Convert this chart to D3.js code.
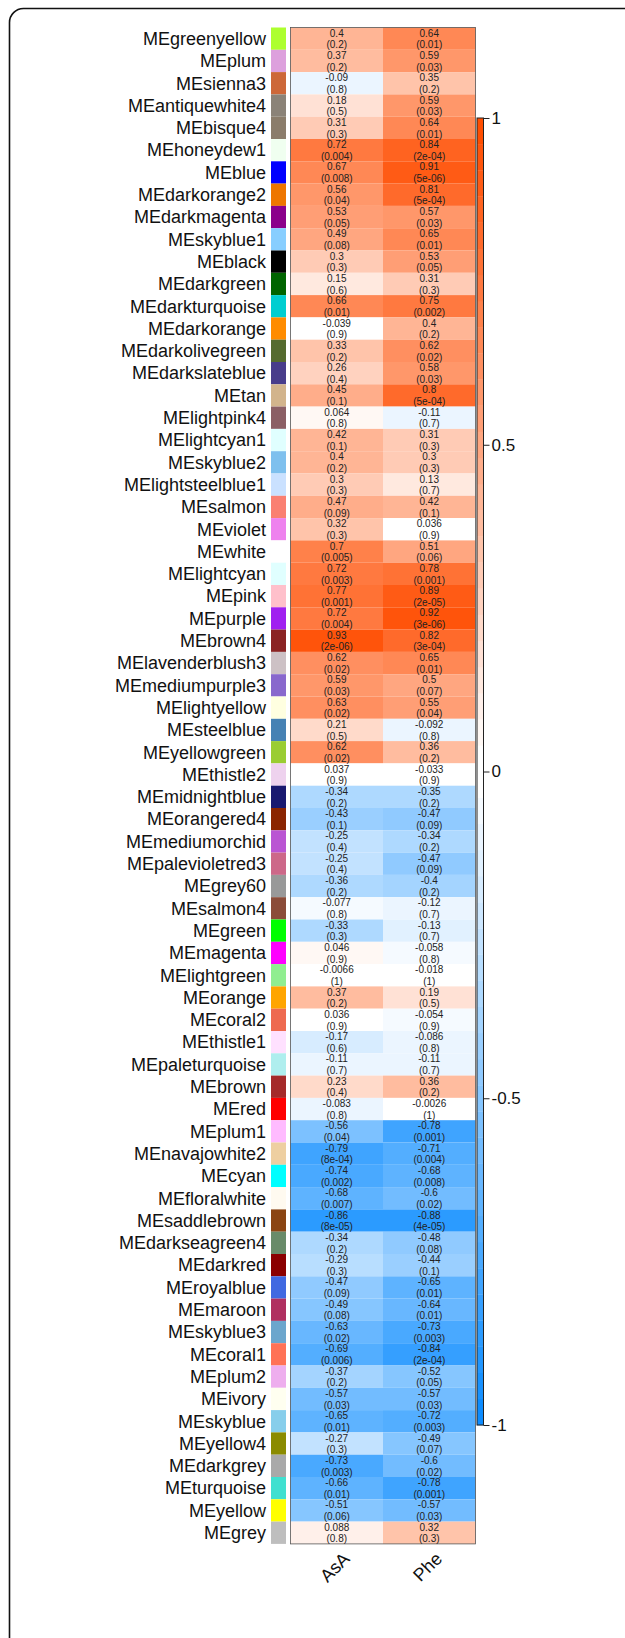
<!DOCTYPE html>
<html>
  <head>
    <meta charset="utf-8" />
    <title>Module-trait</title>
    <style>
    body{
      margin: 0;
      background-color: white;
    }
    </style>
  </head>
  <body>
    <svg id="heat"></svg>
    <script src="https://d3js.org/d3.v7.min.js"></script>
    <script>

    var modules = ["greenyellow","plum","sienna3","antiquewhite4","bisque4","honeydew1","blue","darkorange2","darkmagenta","skyblue1",
                   "black","darkgreen","darkturquoise","darkorange","darkolivegreen","darkslateblue","tan","lightpink4","lightcyan1","skyblue2",
                   "lightsteelblue1","salmon","violet","white","lightcyan","pink","purple","brown4","lavenderblush3","mediumpurple3",
                   "lightyellow","steelblue","yellowgreen","thistle2","midnightblue","orangered4","mediumorchid","palevioletred3","grey60","salmon4",
                   "green","magenta","lightgreen","orange","coral2","thistle1","paleturquoise","brown","red","plum1",
                   "navajowhite2","cyan","floralwhite","saddlebrown","darkseagreen4","darkred","royalblue","maroon","skyblue3","coral1",
                   "plum2","ivory","skyblue","yellow4","darkgrey","turquoise","yellow","grey"];

    // R colour values of the modules, same order
    var moduleColors = ["#ADFF2F","#DDA0DD","#CD6839","#8B8378","#8B7D6B","#F0FFF0","#0000FF","#EE7600","#8B008B","#87CEFF",
                        "#000000","#006400","#00CED1","#FF8C00","#556B2F","#483D8B","#D2B48C","#8B5F65","#E0FFFF","#7EC0EE",
                        "#CAE1FF","#FA8072","#EE82EE","#FFFFFF","#E0FFFF","#FFC0CB","#A020F0","#8B2323","#CDC1C5","#8968CD",
                        "#FFFFE0","#4682B4","#9ACD32","#EED2EE","#191970","#8B2500","#BA55D3","#CD6889","#999999","#8B4C39",
                        "#00FF00","#FF00FF","#90EE90","#FFA500","#EE6A50","#FFE1FF","#AFEEEE","#A52A2A","#FF0000","#FFBBFF",
                        "#EECFA1","#00FFFF","#FFFAF0","#8B4513","#698B69","#8B0000","#4169E1","#B03060","#6CA6CD","#FF7256",
                        "#EEAEEE","#FFFFF0","#87CEEB","#8B8B00","#A9A9A9","#40E0D0","#FFFF00","#BEBEBE"];

    var traits = ["AsA", "Phe"];

    var corAsA = [0.4,0.37,-0.09,0.18,0.31,0.72,0.67,0.56,0.53,0.49,
                  0.3,0.15,0.66,-0.039,0.33,0.26,0.45,0.064,0.42,0.4,
                  0.3,0.47,0.32,0.7,0.72,0.77,0.72,0.93,0.62,0.59,
                  0.63,0.21,0.62,0.037,-0.34,-0.43,-0.25,-0.25,-0.36,-0.077,
                  -0.33,0.046,-0.0066,0.37,0.036,-0.17,-0.11,0.23,-0.083,-0.56,
                  -0.79,-0.74,-0.68,-0.86,-0.34,-0.29,-0.47,-0.49,-0.63,-0.69,
                  -0.37,-0.57,-0.65,-0.27,-0.73,-0.66,-0.51,0.088];

    var pAsA = ["0.2","0.2","0.8","0.5","0.3","0.004","0.008","0.04","0.05","0.08",
                "0.3","0.6","0.01","0.9","0.2","0.4","0.1","0.8","0.1","0.2",
                "0.3","0.09","0.3","0.005","0.003","0.001","0.004","2e-06","0.02","0.03",
                "0.02","0.5","0.02","0.9","0.2","0.1","0.4","0.4","0.2","0.8",
                "0.3","0.9","1","0.2","0.9","0.6","0.7","0.4","0.8","0.04",
                "8e-04","0.002","0.007","8e-05","0.2","0.3","0.09","0.08","0.02","0.006",
                "0.2","0.03","0.01","0.3","0.003","0.01","0.06","0.8"];

    var corPhe = [0.64,0.59,0.35,0.59,0.64,0.84,0.91,0.81,0.57,0.65,
                  0.53,0.31,0.75,0.4,0.62,0.58,0.8,-0.11,0.31,0.3,
                  0.13,0.42,0.036,0.51,0.78,0.89,0.92,0.82,0.65,0.5,
                  0.55,-0.092,0.36,-0.033,-0.35,-0.47,-0.34,-0.47,-0.4,-0.12,
                  -0.13,-0.058,-0.018,0.19,-0.054,-0.086,-0.11,0.36,-0.0026,-0.78,
                  -0.71,-0.68,-0.6,-0.88,-0.48,-0.44,-0.65,-0.64,-0.73,-0.84,
                  -0.52,-0.57,-0.72,-0.49,-0.6,-0.78,-0.57,0.32];

    var pPhe = ["0.01","0.03","0.2","0.03","0.01","2e-04","5e-06","5e-04","0.03","0.01",
                "0.05","0.3","0.002","0.2","0.02","0.03","5e-04","0.7","0.3","0.3",
                "0.7","0.1","0.9","0.06","0.001","2e-05","3e-06","3e-04","0.01","0.07",
                "0.04","0.8","0.2","0.9","0.2","0.09","0.2","0.09","0.2","0.7",
                "0.7","0.8","1","0.5","0.9","0.8","0.7","0.2","1","0.001",
                "0.004","0.008","0.02","4e-05","0.08","0.1","0.01","0.01","0.003","2e-04",
                "0.05","0.03","0.003","0.07","0.02","0.001","0.03","0.3"];

    var legendTicks = [1, 0.5, 0, -0.5, -1];

    var width = 625, height = 1638;
    var svg = d3.select("#heat")
                .attr("width", width)
                .attr("height", height);

    // blueWhiteRed(50) like WGCNA
    var blueEnd = d3.rgb(0.05*255, 0.55*255, 255), redEnd = d3.rgb(255, 0.3*255, 0);
    var pal = [];
    for (var k = 0; k < 25; k++) pal.push(d3.interpolateRgb(blueEnd, "#ffffff")(k/24));
    for (var k = 0; k < 25; k++) pal.push(d3.interpolateRgb("#ffffff", redEnd)(k/24));
    var color = d3.scaleQuantize().domain([-1, 1]).range(pal);

    var cells = [];
    modules.forEach(function(m, i){
      cells.push({mod: m, trait: "AsA", r: corAsA[i], p: pAsA[i]});
      cells.push({mod: m, trait: "Phe", r: corPhe[i], p: pPhe[i]});
    });

    var y = d3.scaleBand()
              .domain(modules)
              .range([27.5, 27.5 + modules.length * 22.3]);

    var x = d3.scaleBand()
              .domain(traits)
              .range([290.5, 475.5]);

    // frame
    svg.append("rect")
       .attr("x", 9.5).attr("y", 8.5)
       .attr("width", 660).attr("height", 1700)
       .attr("rx", 14)
       .attr("fill", "none")
       .attr("stroke", "#111")
       .attr("stroke-width", 1.6);

    var g = svg.append("g");

    g.selectAll(".cell")
     .data(cells)
     .enter().append("rect")
     .attr("class", "cell")
     .attr("x", function(d){ return x(d.trait); })
     .attr("y", function(d){ return y(d.mod); })
     .attr("width", x.bandwidth())
     .attr("height", y.bandwidth())
     .attr("fill", function(d){ return color(d.r); });

    g.append("rect")
     .attr("x", x.range()[0]).attr("y", y.range()[0])
     .attr("width", x.range()[1] - x.range()[0])
     .attr("height", y.range()[1] - y.range()[0])
     .attr("fill", "none")
     .attr("stroke", "#555")
     .attr("stroke-width", 0.8);

    g.selectAll(".rtxt")
     .data(cells)
     .enter().append("text")
     .attr("x", function(d){ return x(d.trait) + x.bandwidth()/2; })
     .attr("y", function(d){ return y(d.mod) + 5.6; })
     .attr("dy", "0.35em")
     .attr("text-anchor", "middle")
     .attr("font-family", "Liberation Sans, Arial, sans-serif")
     .attr("font-size", "10px")
     .attr("fill", "#222")
     .text(function(d){ return String(d.r); });

    g.selectAll(".ptxt")
     .data(cells)
     .enter().append("text")
     .attr("x", function(d){ return x(d.trait) + x.bandwidth()/2; })
     .attr("y", function(d){ return y(d.mod) + 17.3; })
     .attr("dy", "0.35em")
     .attr("text-anchor", "middle")
     .attr("font-family", "Liberation Sans, Arial, sans-serif")
     .attr("font-size", "10px")
     .attr("fill", "#222")
     .text(function(d){ return "(" + d.p + ")"; });

    // module colour strip + labels
    g.selectAll(".strip")
     .data(modules)
     .enter().append("rect")
     .attr("x", 271)
     .attr("y", function(d){ return y(d); })
     .attr("width", 15)
     .attr("height", y.bandwidth())
     .attr("fill", function(d, i){ return moduleColors[i]; });

    g.selectAll(".lab")
     .data(modules)
     .enter().append("text")
     .attr("x", 266)
     .attr("y", function(d){ return y(d) + y.bandwidth()/2; })
     .attr("dy", "0.35em")
     .attr("text-anchor", "end")
     .attr("font-family", "Liberation Sans, Arial, sans-serif")
     .attr("font-size", "18px")
     .attr("fill", "#111")
     .text(function(d){ return "ME" + d; });

    var bottom = y.range()[1];
    g.selectAll(".xlab")
     .data(traits)
     .enter().append("text")
     .attr("transform", function(d){ return "translate(" + (x(d) + x.bandwidth()/2 + 14) + "," + (bottom + 16) + ")rotate(-45)"; })
     .attr("text-anchor", "end")
     .attr("font-family", "Liberation Sans, Arial, sans-serif")
     .attr("font-size", "18px")
     .attr("fill", "#111")
     .text(function(d){ return d; });

    // legend
    var ly = d3.scaleLinear().domain([-1, 1]).range([1425, 118]);
    var lx = 477, lw = 6.5;
    var steps = d3.range(pal.length);
    g.selectAll(".lg")
     .data(steps)
     .enter().append("rect")
     .attr("x", lx)
     .attr("y", function(k){ return ly(-1 + (k + 1) * 2 / pal.length); })
     .attr("width", lw)
     .attr("height", function(k){ return ly(-1 + k * 2 / pal.length) - ly(-1 + (k + 1) * 2 / pal.length) + 0.3; })
     .attr("fill", function(k){ return pal[k]; });

    g.append("rect")
     .attr("x", lx).attr("y", ly(1))
     .attr("width", lw).attr("height", ly(-1) - ly(1))
     .attr("fill", "none")
     .attr("stroke", "#222")
     .attr("stroke-width", 1);

    var axis = d3.axisRight(ly)
                 .tickValues(legendTicks)
                 .tickSize(6)
                 .tickFormat(function(d){ return String(d); });

    var ag = g.append("g")
              .attr("transform", "translate(" + (lx + lw) + ",0)")
              .call(axis);
    ag.select(".domain").remove();
    ag.selectAll("text")
      .attr("font-family", "Liberation Sans, Arial, sans-serif")
      .attr("font-size", "17px")
      .attr("fill", "#111")
      .attr("x", 8);
    ag.selectAll("line").attr("stroke", "#222");

    </script>
  </body>
</html>
